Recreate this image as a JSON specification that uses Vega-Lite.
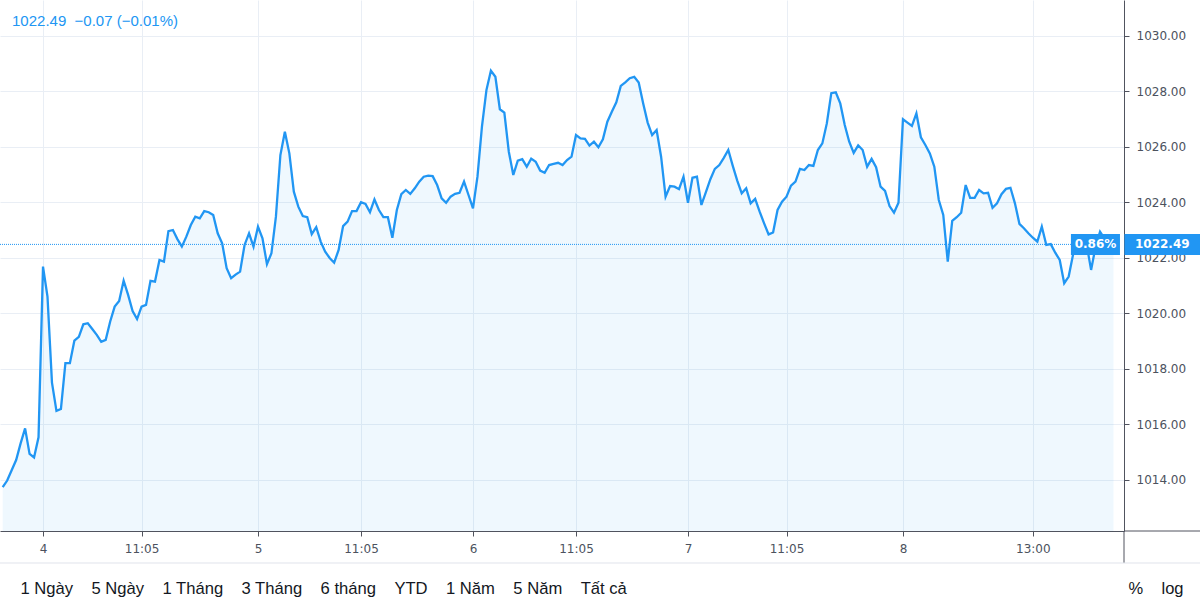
{
  "$schema": "https://vega.github.io/schema/vega-lite/v6.json",
  "width": 1124,
  "height": 531,
  "autosize": {"type": "none"},
  "padding": {"left": 0, "top": 0, "right": 76, "bottom": 83},
  "background": "white",
  "config": {"view": {"stroke": null}},
  "datasets": {
    "series": [
      {"i":0,"v":1013.74},{"i":1,"v":1013.98},{"i":2,"v":1014.35},{"i":3,"v":1014.72},{"i":4,"v":1015.32},{"i":5,"v":1015.86},{"i":6,"v":1014.94},{"i":7,"v":1014.81},{"i":8,"v":1015.54},
      {"i":9,"v":1021.69},{"i":10,"v":1020.61},{"i":11,"v":1017.51},{"i":12,"v":1016.49},{"i":13,"v":1016.56},{"i":14,"v":1018.21},{"i":15,"v":1018.21},{"i":16,"v":1019.02},{"i":17,"v":1019.16},{"i":18,"v":1019.61},{"i":19,"v":1019.65},{"i":20,"v":1019.44},{"i":21,"v":1019.23},{"i":22,"v":1018.98},{"i":23,"v":1019.05},{"i":24,"v":1019.71},{"i":25,"v":1020.25},{"i":26,"v":1020.45},{"i":27,"v":1021.18},{"i":28,"v":1020.67},{"i":29,"v":1020.09},{"i":30,"v":1019.80},{"i":31,"v":1020.25},{"i":32,"v":1020.31},{"i":33,"v":1021.18},{"i":34,"v":1021.15},{"i":35,"v":1021.93},{"i":36,"v":1021.87},{"i":37,"v":1022.97},{"i":38,"v":1023.01},{"i":39,"v":1022.68},{"i":40,"v":1022.41},{"i":41,"v":1022.77},{"i":42,"v":1023.19},{"i":43,"v":1023.49},{"i":44,"v":1023.43},{"i":45,"v":1023.69},{"i":46,"v":1023.65},{"i":47,"v":1023.55},{"i":48,"v":1022.89},{"i":49,"v":1022.53},{"i":50,"v":1021.63},{"i":51,"v":1021.27},{"i":52,"v":1021.40},{"i":53,"v":1021.51},{"i":54,"v":1022.47},{"i":55,"v":1022.89},{"i":56,"v":1022.41},
      {"i":57,"v":1023.13},{"i":58,"v":1022.71},{"i":59,"v":1021.78},{"i":60,"v":1022.17},{"i":61,"v":1023.49},{"i":62,"v":1025.71},{"i":63,"v":1026.55},{"i":64,"v":1025.77},{"i":65,"v":1024.39},{"i":66,"v":1023.85},{"i":67,"v":1023.51},{"i":68,"v":1023.47},{"i":69,"v":1022.86},{"i":70,"v":1023.11},{"i":71,"v":1022.59},{"i":72,"v":1022.23},{"i":73,"v":1022.00},{"i":74,"v":1021.83},{"i":75,"v":1022.29},{"i":76,"v":1023.15},{"i":77,"v":1023.31},{"i":78,"v":1023.69},{"i":79,"v":1023.69},{"i":80,"v":1024.01},{"i":81,"v":1023.95},{"i":82,"v":1023.65},{"i":83,"v":1024.11},{"i":84,"v":1023.73},{"i":85,"v":1023.47},{"i":86,"v":1023.47},{"i":87,"v":1022.73},{"i":88,"v":1023.73},{"i":89,"v":1024.30},{"i":90,"v":1024.45},{"i":91,"v":1024.31},{"i":92,"v":1024.51},{"i":93,"v":1024.75},{"i":94,"v":1024.93},{"i":95,"v":1024.97},{"i":96,"v":1024.95},{"i":97,"v":1024.63},{"i":98,"v":1024.15},{"i":99,"v":1023.99},{"i":100,"v":1024.21},{"i":101,"v":1024.31},{"i":102,"v":1024.35},{"i":103,"v":1024.75},{"i":104,"v":1024.27},
      {"i":105,"v":1023.79},{"i":106,"v":1024.93},{"i":107,"v":1026.73},{"i":108,"v":1028.05},{"i":109,"v":1028.75},{"i":110,"v":1028.53},{"i":111,"v":1027.36},{"i":112,"v":1027.24},{"i":113,"v":1025.83},{"i":114,"v":1024.99},{"i":115,"v":1025.51},{"i":116,"v":1025.56},{"i":117,"v":1025.29},{"i":118,"v":1025.58},{"i":119,"v":1025.47},{"i":120,"v":1025.15},{"i":121,"v":1025.07},{"i":122,"v":1025.35},{"i":123,"v":1025.39},{"i":124,"v":1025.43},{"i":125,"v":1025.35},{"i":126,"v":1025.53},{"i":127,"v":1025.65},{"i":128,"v":1026.43},{"i":129,"v":1026.31},{"i":130,"v":1026.29},{"i":131,"v":1026.05},{"i":132,"v":1026.19},{"i":133,"v":1025.99},{"i":134,"v":1026.28},{"i":135,"v":1026.91},{"i":136,"v":1027.27},{"i":137,"v":1027.61},{"i":138,"v":1028.20},{"i":139,"v":1028.33},{"i":140,"v":1028.48},{"i":141,"v":1028.53},{"i":142,"v":1028.32},{"i":143,"v":1027.57},{"i":144,"v":1026.88},{"i":145,"v":1026.43},{"i":146,"v":1026.61},{"i":147,"v":1025.65},{"i":148,"v":1024.21},{"i":149,"v":1024.59},{"i":150,"v":1024.57},{"i":151,"v":1024.48},{"i":152,"v":1024.93},
      {"i":153,"v":1023.99},{"i":154,"v":1024.89},{"i":155,"v":1024.93},{"i":156,"v":1023.91},{"i":157,"v":1024.37},{"i":158,"v":1024.84},{"i":159,"v":1025.21},{"i":160,"v":1025.35},{"i":161,"v":1025.61},{"i":162,"v":1025.89},{"i":163,"v":1025.32},{"i":164,"v":1024.79},{"i":165,"v":1024.33},{"i":166,"v":1024.51},{"i":167,"v":1023.97},{"i":168,"v":1024.13},{"i":169,"v":1023.67},{"i":170,"v":1023.25},{"i":171,"v":1022.85},{"i":172,"v":1022.92},{"i":173,"v":1023.73},{"i":174,"v":1024.03},{"i":175,"v":1024.21},{"i":176,"v":1024.61},{"i":177,"v":1024.75},{"i":178,"v":1025.21},{"i":179,"v":1025.17},{"i":180,"v":1025.35},{"i":181,"v":1025.32},{"i":182,"v":1025.89},{"i":183,"v":1026.13},{"i":184,"v":1026.85},{"i":185,"v":1027.94},{"i":186,"v":1027.97},{"i":187,"v":1027.57},{"i":188,"v":1026.79},{"i":189,"v":1026.19},{"i":190,"v":1025.79},{"i":191,"v":1026.06},{"i":192,"v":1025.89},{"i":193,"v":1025.29},{"i":194,"v":1025.57},{"i":195,"v":1025.27},{"i":196,"v":1024.57},{"i":197,"v":1024.42},{"i":198,"v":1023.87},{"i":199,"v":1023.63},{"i":200,"v":1023.99},
      {"i":201,"v":1027.00},{"i":202,"v":1026.88},{"i":203,"v":1026.76},{"i":204,"v":1027.21},{"i":205,"v":1026.35},{"i":206,"v":1026.07},{"i":207,"v":1025.77},{"i":208,"v":1025.29},{"i":209,"v":1024.09},{"i":210,"v":1023.55},{"i":211,"v":1021.87},{"i":212,"v":1023.34},{"i":213,"v":1023.47},{"i":214,"v":1023.63},{"i":215,"v":1024.63},{"i":216,"v":1024.17},{"i":217,"v":1024.17},{"i":218,"v":1024.45},{"i":219,"v":1024.33},{"i":220,"v":1024.35},{"i":221,"v":1023.81},{"i":222,"v":1023.97},{"i":223,"v":1024.30},{"i":224,"v":1024.49},{"i":225,"v":1024.53},{"i":226,"v":1023.97},{"i":227,"v":1023.23},{"i":228,"v":1023.07},{"i":229,"v":1022.89},{"i":230,"v":1022.73},{"i":231,"v":1022.59},{"i":232,"v":1023.13},{"i":233,"v":1022.47},{"i":234,"v":1022.50},{"i":235,"v":1022.19},{"i":236,"v":1021.93},{"i":237,"v":1021.09},{"i":238,"v":1021.33},{"i":239,"v":1022.14},{"i":240,"v":1022.55},{"i":241,"v":1022.60},{"i":242,"v":1022.50},{"i":243,"v":1021.57},{"i":244,"v":1022.40},{"i":245,"v":1022.95},{"i":246,"v":1022.70},{"i":247,"v":1022.55},{"i":248,"v":1022.49}
    ]
  },
  "layer": [
    {
      "data": {"name": "series"},
      "mark": {"type": "area", "color": "#2196f3", "fillOpacity": 0.07, "clip": true},
      "encoding": {
        "x": {
          "field": "i", "type": "quantitative",
          "scale": {"domain": [-0.603, 250.35], "nice": false, "zero": false},
          "axis": {
            "values": [9, 31, 57, 80, 105, 128, 153, 175, 201, 230],
            "labelExpr": "datum.value==9?'4':datum.value==57?'5':datum.value==105?'6':datum.value==153?'7':datum.value==201?'8':datum.value==230?'13:00':'11:05'",
            "grid": true, "gridColor": "#e9eef5", "gridWidth": 1,
            "domainColor": "#50535e", "tickColor": "#50535e", "tickSize": 5,
            "labelFont": "DejaVu Sans", "labelFontSize": 12, "labelColor": "#4c525e", "labelPadding": 7,
            "labelFlush": false, "labelOverlap": false,
            "title": "1 Ngày\u00a0\u00a0\u00a0\u00a05 Ngày\u00a0\u00a0\u00a0\u00a01 Tháng\u00a0\u00a0\u00a0\u00a03 Tháng\u00a0\u00a0\u00a0\u00a06 tháng\u00a0\u00a0\u00a0\u00a0YTD\u00a0\u00a0\u00a0\u00a01 Năm\u00a0\u00a0\u00a0\u00a05 Năm\u00a0\u00a0\u00a0\u00a0Tất cả",
            "titleX": 20, "titleY": 62, "titleAlign": "left", "titleBaseline": "alphabetic", "titleAngle": 0,
            "titleFont": "Liberation Sans", "titleFontSize": 16.6, "titleFontWeight": "normal", "titleColor": "#131722"
          }
        },
        "y": {
          "field": "v", "type": "quantitative",
          "scale": {"domain": [1012.162, 1031.297], "nice": false, "zero": false},
          "axis": {
            "orient": "right",
            "values": [1014, 1016, 1018, 1020, 1022, 1024, 1026, 1028, 1030],
            "format": ".2f",
            "grid": true, "gridColor": "#e9eef5", "gridWidth": 1,
            "domainColor": "#50535e", "tickColor": "#50535e", "tickSize": 5,
            "labelFont": "DejaVu Sans", "labelFontSize": 12, "labelColor": "#4c525e", "labelPadding": 7,
            "labelFlush": false, "labelOverlap": false,
            "title": "%\u00a0\u00a0\u00a0\u00a0log",
            "titleX": 4, "titleY": 593, "titleAlign": "left", "titleBaseline": "alphabetic", "titleAngle": 0,
            "titleFont": "Liberation Sans", "titleFontSize": 16.5, "titleFontWeight": "normal", "titleColor": "#131722"
          }
        }
      }
    },
    {
      "data": {"name": "series"},
      "mark": {"type": "line", "color": "#2196f3", "strokeWidth": 2.3, "clip": true},
      "encoding": {
        "x": {"field": "i", "type": "quantitative"},
        "y": {"field": "v", "type": "quantitative"}
      }
    },
    {
      "data": {"values": [{"last": 1022.49, "pct": "0.86%", "price": "1022.49"}]},
      "mark": {"type": "rule", "color": "#2196f3", "strokeWidth": 1, "strokeDash": [1, 1]},
      "encoding": {
        "y": {"field": "last", "type": "quantitative"},
        "x": {"datum": -0.603, "type": "quantitative"},
        "x2": {"datum": 238.5}
      }
    },
    {
      "data": {"values": [{"last": 1022.49, "pct": "0.86%", "price": "1022.49"}]},
      "mark": {"type": "rect", "color": "#2196f3", "clip": false},
      "encoding": {
        "x": {"datum": 238.5, "type": "quantitative"},
        "x2": {"datum": 249.45},
        "y": {"datum": 1022.865, "type": "quantitative"},
        "y2": {"datum": 1022.108}
      }
    },
    {
      "data": {"values": [{"last": 1022.49, "pct": "0.86%", "price": "1022.49"}]},
      "mark": {"type": "rect", "color": "#2196f3", "clip": false},
      "encoding": {
        "x": {"datum": 250.45, "type": "quantitative"},
        "x2": {"datum": 267.4},
        "y": {"datum": 1022.865, "type": "quantitative"},
        "y2": {"datum": 1022.108}
      }
    },
    {
      "data": {"values": [{"last": 1022.49, "pct": "0.86%", "price": "1022.49"}]},
      "mark": {"type": "text", "color": "white", "font": "DejaVu Sans", "fontSize": 12, "fontWeight": "bold", "align": "center", "baseline": "middle", "clip": false},
      "encoding": {
        "x": {"datum": 243.98, "type": "quantitative"},
        "y": {"field": "last", "type": "quantitative"},
        "text": {"field": "pct"}
      }
    },
    {
      "data": {"values": [{"last": 1022.49, "pct": "0.86%", "price": "1022.49"}]},
      "mark": {"type": "text", "color": "white", "font": "DejaVu Sans", "fontSize": 12, "fontWeight": "bold", "align": "center", "baseline": "middle", "clip": false},
      "encoding": {
        "x": {"datum": 258.9, "type": "quantitative"},
        "y": {"field": "last", "type": "quantitative"},
        "text": {"field": "price"}
      }
    },
    {
      "data": {"values": [{"label": "1022.49\u00a0\u00a0−0.07 (−0.01%)"}]},
      "mark": {"type": "text", "color": "#2196f3", "font": "Liberation Sans", "fontSize": 15, "align": "left", "baseline": "alphabetic"},
      "encoding": {
        "x": {"datum": 2.08, "type": "quantitative"},
        "y": {"datum": 1030.35, "type": "quantitative"},
        "text": {"field": "label"}
      }
    },
    {
      "data": {"values": [{"edge": 1012.162}]},
      "mark": {"type": "rule", "color": "#50535e", "strokeWidth": 1, "clip": false},
      "encoding": {
        "y": {"field": "edge", "type": "quantitative"},
        "x": {"datum": 250.35, "type": "quantitative"},
        "x2": {"datum": 267.4}
      }
    },
    {
      "data": {"values": [{"edge": 1012.162}]},
      "mark": {"type": "rule", "color": "#50535e", "strokeWidth": 1, "clip": false},
      "encoding": {
        "x": {"datum": 250.35, "type": "quantitative"},
        "y": {"field": "edge", "type": "quantitative"},
        "y2": {"datum": 1011.009}
      }
    },
    {
      "data": {"values": [{"sep": 1011.009}]},
      "mark": {"type": "rule", "color": "#e0e3eb", "strokeWidth": 1, "clip": false},
      "encoding": {
        "y": {"field": "sep", "type": "quantitative"},
        "x": {"datum": -0.603, "type": "quantitative"},
        "x2": {"datum": 267.4}
      }
    }
  ]
}
